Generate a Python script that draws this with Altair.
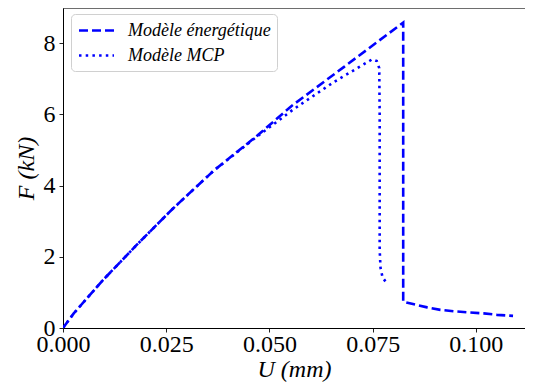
import altair as alt
import pandas as pd

# Energetic model (dashed)
u_energ = [0.0, 0.0026, 0.0098, 0.0179, 0.0264, 0.0365, 0.0470, 0.0555, 0.0680, 0.0817, 0.0824,
           0.0824, 0.0845, 0.0882, 0.0914, 0.0946, 0.0979, 0.1019, 0.1051, 0.1090]
f_energ = [0.0, 0.41, 1.36, 2.34, 3.33, 4.42, 5.40, 6.25, 7.33, 8.52, 8.58,
           0.74, 0.68, 0.58, 0.51, 0.47, 0.44, 0.41, 0.37, 0.34]

# MCP model (dotted)
u_mcp = [0.0, 0.0026, 0.0098, 0.0179, 0.0264, 0.0365, 0.0470, 0.0559, 0.0656, 0.0720, 0.0749,
         0.0760, 0.0766, 0.0767, 0.0767, 0.0767, 0.0769, 0.0774, 0.0786]
f_mcp = [0.0, 0.41, 1.36, 2.34, 3.33, 4.42, 5.38, 6.15, 6.91, 7.35, 7.55,
         7.50, 7.30, 6.00, 4.00, 2.20, 1.70, 1.42, 1.23]

series = ["Modèle énergétique", "Modèle MCP"]
x_ticks = [0.0, 0.025, 0.05, 0.075, 0.1]
y_ticks = [0, 2, 4, 6, 8]

rows = []
for i, (u, f) in enumerate(zip(u_energ, f_energ)):
    rows.append({"U": u, "F": f, "s": series[0], "i": i})
for i, (u, f) in enumerate(zip(u_mcp, f_mcp)):
    rows.append({"U": u, "F": f, "s": series[1], "i": i})
df = pd.DataFrame(rows)

FONT = "Liberation Serif"
W, H = 462, 320

lines = alt.Chart(df).mark_line(strokeWidth=2.6, color="#0000ff", clip=True).encode(
    x=alt.X("U:Q", scale=alt.Scale(domain=[0, 0.1119], nice=False, zero=False),
            axis=alt.Axis(values=x_ticks, format=".3f", title="U (mm)", grid=False,
                          labelFont=FONT, labelFontSize=24, labelColor="#000",
                          labelFlush=False, labelOverlap=False,
                          titleFont=FONT, titleFontSize=24, titleFontStyle="italic",
                          titleFontWeight="normal", titleColor="#000", titlePadding=1,
                          tickSize=4, tickColor="#222", domainColor="#000", labelPadding=0)),
    y=alt.Y("F:Q", scale=alt.Scale(domain=[0, 8.99], nice=False),
            axis=alt.Axis(values=y_ticks, format="d", title="F (kN)", grid=False,
                          labelFont=FONT, labelFontSize=24, labelColor="#000",
                          labelFlush=False, labelOverlap=False,
                          titleFont=FONT, titleFontSize=24, titleFontStyle="italic",
                          titleFontWeight="normal", titleColor="#000", titlePadding=5,
                          tickSize=4, tickColor="#222", domainColor="#000", labelPadding=4)),
    strokeDash=alt.StrokeDash("s:N",
        scale=alt.Scale(domain=series, range=[[9, 4], [2.5, 4.2]]),
        legend=alt.Legend(title=None, orient="none", legendX=8, legendY=6,
                          symbolType="M-2,0L2,0", symbolSize=306, symbolStrokeWidth=2.6,
                          symbolStrokeColor="#0000ff", symbolFillColor="transparent",
                          symbolOffset=9,
                          labelFont=FONT, labelFontSize=18,
                          labelFontStyle="italic", labelColor="#000", labelOffset=21,
                          rowPadding=5, padding=6, fillColor="white",
                          strokeColor="#d0d0d0", cornerRadius=4, labelLimit=300)),
    order="i:Q",
    detail="s:N",
)

top = alt.Chart(pd.DataFrame({"a": [0]})).mark_rule(color="#000", strokeWidth=1).encode(
    x=alt.value(0), x2=alt.value(W + 5), y=alt.value(0)
)

chart = alt.layer(lines, top).properties(
    width=W, height=H,
    autosize=alt.AutoSizeParams(type="none"),
    padding={"left": 55, "top": 0, "right": 0, "bottom": 55},
).configure_view(stroke=None).configure(background="white")

chart.save("out.html", embed_options={"renderer": "svg", "actions": False})
